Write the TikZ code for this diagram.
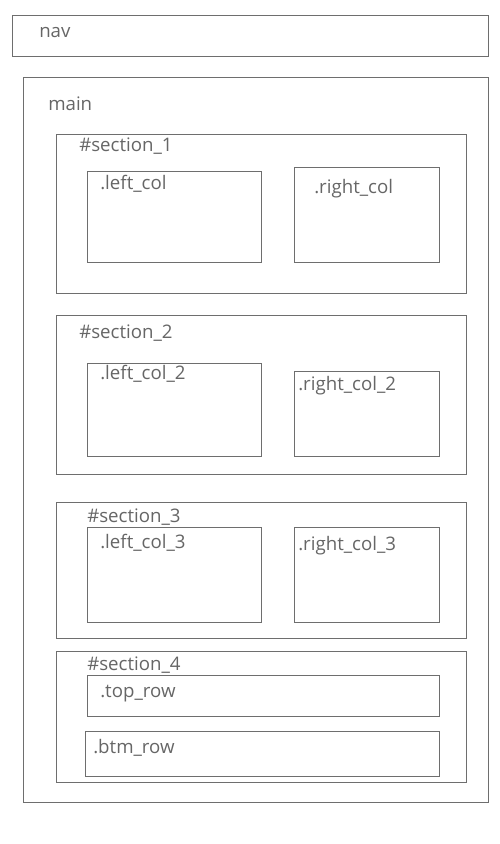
\documentclass[tikz,border=0pt]{standalone}
\usepackage{fontspec}
\setmainfont{Open Sans}
\definecolor{boxline}{HTML}{6E6E6E}
\definecolor{labeltext}{HTML}{666666}
\begin{document}
\begin{tikzpicture}[x=0.75pt,y=-0.75pt,
  box/.style={draw=boxline,line width=0.75pt},
  lbl/.style={anchor=base west,inner sep=0pt,text=labeltext,font=\fontsize{14pt}{16pt}\selectfont}]
\useasboundingbox (0,0) rectangle (500,844);
\fill[white] (0,0) rectangle (500,844);
% nav
\draw[box] (12,15) rectangle (488,56);
\node[lbl] (nav) at (39,37) {nav};
% main
\draw[box] (23,77) rectangle (488,802);
\node[lbl] (main) at (48,110) {main};
% section 1
\draw[box] (56,134) rectangle (466,293);
\node[lbl] (s1) at (79,151) {\#section\_1};
\draw[box] (87,171) rectangle (261,262);
\node[lbl] (l1) at (100,189) {.left\_col};
\draw[box] (294,167) rectangle (439,262);
\node[lbl] (r1) at (314,193) {.right\_col};
% section 2
\draw[box] (56,315) rectangle (466,474);
\node[lbl] (s2) at (79,338) {\#section\_2};
\draw[box] (87,363) rectangle (261,456);
\node[lbl] (l2) at (100,379) {.left\_col\_2};
\draw[box] (294,371) rectangle (439,456);
\node[lbl] (r2) at (298,390) {.right\_col\_2};
% section 3
\draw[box] (56,502) rectangle (466,638);
\node[lbl] (s3) at (87,522) {\#section\_3};
\draw[box] (87,527) rectangle (261,622);
\node[lbl] (l3) at (100,548) {.left\_col\_3};
\draw[box] (294,527) rectangle (439,622);
\node[lbl] (r3) at (298,550) {.right\_col\_3};
% section 4
\draw[box] (56,651) rectangle (466,782);
\node[lbl] (s4) at (87,670) {\#section\_4};
\draw[box] (87,675) rectangle (439,716);
\node[lbl] (tr) at (100,697) {.top\_row};
\draw[box] (85,731) rectangle (439,776);
\node[lbl] (br) at (93,753) {.btm\_row};
\end{tikzpicture}
\end{document}
